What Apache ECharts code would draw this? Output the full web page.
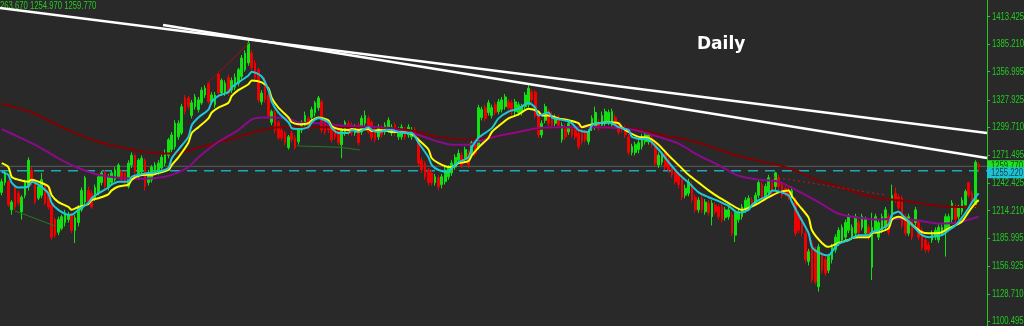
<!DOCTYPE html>
<html><head><meta charset="utf-8">
<script src="https://cdn.jsdelivr.net/npm/echarts@6/dist/echarts.min.js"></script>
<style>html,body{margin:0;padding:0;background:#292929;overflow:hidden}#c{width:1024px;height:326px}</style>
</head><body><div id="c"></div>
<script>
// [open, close, low, high]
const candles = [
[1233,1244,1230,1247],[1243,1253,1240,1256],[1244,1220,1218,1246],[1215,1223,1210,1225],[1239,1218,1215,1241],
[1232,1222,1219,1235],[1213,1228,1205,1230],[1230,1243,1227,1246],[1239,1266,1235,1269],[1256,1243,1240,1259],
[1243,1223,1221,1246],[1227,1239,1225,1241],[1230,1246,1227,1253],[1239,1222,1220,1241],[1235,1218,1215,1238],
[1220,1187,1184,1222],[1205,1189,1186,1207],[1192,1205,1189,1208],[1196,1208,1194,1210],[1202,1212,1198,1215],
[1205,1210,1202,1213],[1210,1194,1191,1212],[1194,1207,1181,1210],[1202,1218,1198,1220],[1215,1235,1213,1238],
[1223,1248,1221,1250],[1235,1222,1220,1239],[1232,1218,1216,1235],[1227,1238,1224,1241],[1232,1249,1230,1251],
[1243,1253,1240,1255],[1253,1239,1236,1256],[1238,1249,1235,1252],[1243,1253,1241,1255],[1246,1256,1244,1259],
[1249,1261,1247,1263],[1254,1246,1244,1256],[1253,1243,1241,1255],[1239,1263,1237,1266],
[1261,1271,1258,1274],[1271,1254,1251,1273],[1249,1266,1246,1268],[1254,1268,1251,1271],[1266,1239,1235,1268],
[1243,1253,1240,1256],[1246,1259,1243,1261],[1254,1261,1251,1264],[1254,1263,1251,1266],[1258,1269,1256,1272],
[1263,1273,1260,1277],[1271,1287,1268,1289],[1277,1292,1274,1295],[1280,1304,1277,1307],[1290,1304,1287,1307],
[1294,1321,1292,1324],[1330,1316,1313,1333],[1330,1321,1318,1332],[1312,1325,1309,1328],[1321,1331,1318,1334],
[1318,1328,1315,1331],[1325,1338,1323,1341],[1333,1340,1330,1343],[1345,1326,1324,1347],[1326,1333,1323,1336],
[1323,1333,1320,1336],[1354,1335,1333,1357],[1335,1348,1332,1350],[1335,1345,1332,1348],[1351,1335,1332,1354],
[1338,1348,1335,1351],[1341,1351,1338,1355],[1345,1359,1342,1361],[1352,1371,1348,1374],[1359,1376,1357,1379],
[1366,1386,1363,1389],[1376,1361,1358,1379],[1366,1351,1348,1369],[1359,1328,1325,1361],
[1326,1335,1323,1338],[1348,1328,1325,1351],[1333,1312,1309,1335],[1305,1316,1302,1318],[1315,1297,1294,1318],
[1305,1289,1287,1307],[1297,1289,1286,1299],[1294,1284,1281,1296],[1279,1290,1277,1292],[1294,1287,1284,1297],
[1289,1279,1277,1292],[1285,1297,1282,1299],[1297,1304,1294,1307],[1302,1312,1299,1316],[1309,1300,1297,1311],
[1310,1318,1307,1321],[1315,1325,1311,1327],[1320,1330,1317,1332],[1326,1297,1294,1328],[1307,1295,1292,1309],
[1305,1297,1294,1307],[1300,1287,1284,1302],[1300,1290,1287,1302],[1297,1284,1281,1299],[1282,1297,1268,1300],
[1294,1305,1291,1307],[1304,1294,1291,1307],[1302,1294,1291,1305],[1294,1300,1291,1303],[1302,1284,1281,1305],
[1295,1309,1292,1312],[1304,1312,1301,1317],[1309,1295,1293,1312],[1305,1289,1286,1307],[1297,1287,1284,1299],
[1290,1300,1287,1303],[1299,1292,1289,1302],[1295,1302,1292,1305],[1297,1307,1294,1310],[1294,1300,1291,1303],
[1302,1294,1291,1305],[1290,1297,1287,1300],[1290,1300,1287,1303],[1297,1290,1287,1300],[1292,1300,1289,1303],
[1290,1297,1287,1300],[1297,1292,1289,1300],[1287,1263,1260,1290],[1266,1256,1253,1269],[1263,1249,1246,1265],
[1256,1243,1240,1258],[1253,1243,1240,1256],[1243,1249,1240,1252],[1248,1239,1235,1251],[1241,1249,1237,1252],
[1244,1256,1241,1259],[1249,1258,1246,1261],[1253,1263,1250,1266],[1259,1269,1256,1272],[1266,1273,1263,1277],
[1271,1261,1258,1274],[1268,1277,1265,1280],[1273,1261,1258,1277],[1274,1284,1271,1287],[1282,1273,1270,1285],
[1279,1320,1277,1323],
[1310,1318,1307,1321],[1320,1309,1306,1323],[1315,1325,1312,1328],[1312,1320,1309,1323],[1323,1315,1312,1326],
[1316,1326,1313,1329],[1318,1328,1315,1331],[1321,1331,1318,1334],[1326,1320,1317,1329],[1325,1316,1312,1328],
[1316,1326,1312,1329],[1315,1323,1312,1326],[1316,1321,1312,1324],[1321,1333,1318,1336],[1323,1340,1320,1343],
[1336,1328,1325,1339],[1336,1312,1309,1338],[1315,1292,1289,1318],[1292,1304,1289,1307],[1307,1321,1304,1324],
[1316,1304,1301,1319],[1312,1302,1299,1316],[1304,1310,1301,1313],[1310,1302,1299,1313],[1287,1302,1284,1305],
[1300,1290,1287,1303],[1295,1304,1292,1307],[1299,1292,1289,1302],[1297,1290,1287,1300],[1294,1280,1277,1297],
[1295,1285,1282,1298],[1294,1287,1284,1297],[1285,1295,1282,1298],[1299,1309,1296,1312],[1300,1315,1297,1321],
[1305,1299,1296,1308],[1302,1312,1299,1316],[1304,1316,1301,1319],[1305,1315,1302,1318],[1302,1316,1299,1319],
[1310,1302,1299,1313],[1302,1295,1292,1305],[1300,1297,1294,1303],[1299,1292,1289,1302],[1290,1274,1271,1293],
[1274,1280,1271,1283],[1274,1282,1271,1285],[1277,1284,1273,1287],[1280,1290,1277,1293],[1285,1292,1282,1295],
[1285,1292,1282,1295],[1289,1282,1279,1292],[1284,1263,1260,1287],[1261,1271,1258,1274],[1264,1271,1261,1274],
[1273,1259,1256,1277],[1266,1256,1253,1269],[1259,1251,1248,1262],[1254,1244,1241,1257],[1251,1241,1237,1254],
[1248,1228,1225,1251],[1230,1237,1227,1241],[1232,1244,1229,1247],[1241,1225,1222,1244],[1228,1215,1212,1231],
[1215,1225,1212,1228],[1227,1215,1212,1230],[1213,1223,1210,1226],[1222,1212,1209,1225],[1208,1222,1199,1225],
[1220,1213,1210,1223],[1218,1208,1205,1221],[1218,1205,1202,1221],[1207,1215,1204,1218],[1208,1215,1205,1218],
[1210,1191,1188,1213],[1189,1212,1182,1215],[1205,1213,1202,1216],[1208,1218,1205,1221],[1215,1225,1212,1228],
[1218,1227,1215,1230],[1225,1220,1217,1228],[1222,1230,1219,1233],[1230,1243,1227,1246],[1241,1228,1225,1244],
[1228,1239,1225,1242],[1233,1248,1230,1251],[1243,1232,1229,1246],[1239,1253,1235,1254],[1248,1239,1235,1251],
[1241,1230,1227,1244],[1237,1232,1229,1241],[1235,1228,1225,1239],[1230,1235,1227,1239],[1225,1191,1188,1228],
[1210,1194,1191,1213],[1205,1191,1188,1208],[1191,1164,1160,1194],[1162,1172,1158,1175],[1181,1143,1140,1184],
[1174,1141,1138,1177],[1136,1177,1131,1180],[1169,1153,1150,1172],[1164,1150,1147,1167],[1153,1167,1150,1170],
[1164,1177,1160,1180],[1174,1187,1171,1190],[1181,1194,1178,1197],[1184,1197,1181,1200],[1187,1202,1184,1205],
[1194,1208,1191,1211],[1187,1197,1184,1200],[1191,1208,1188,1211],[1202,1192,1189,1205],[1197,1208,1194,1211],
[1191,1205,1188,1208],[1197,1187,1184,1200],[1156,1197,1143,1212],[1194,1208,1191,1211],[1187,1202,1184,1205],
[1194,1208,1191,1211],[1197,1215,1194,1218],[1208,1192,1189,1211],[1208,1230,1205,1241],[1232,1225,1222,1238],
[1228,1217,1214,1231],[1227,1199,1196,1230],[1208,1191,1188,1211],[1191,1208,1188,1211],[1203,1187,1184,1206],
[1202,1215,1199,1218],[1202,1187,1184,1205],[1194,1176,1173,1197],[1184,1174,1171,1187],[1179,1174,1171,1182],
[1184,1191,1181,1194],[1187,1194,1184,1197],[1184,1197,1181,1200],[1191,1197,1188,1200],[1194,1208,1167,1211],
[1197,1208,1194,1211],[1205,1222,1202,1225],[1218,1205,1202,1221],[1208,1217,1205,1220],[1213,1225,1210,1228],
[1220,1234,1217,1236],[1243,1230,1227,1244],[1232,1223,1220,1235],[1220,1264,1217,1266],[1261.5,1259.77,1254.97,1263.67]
];
const slotCount = 296;
const categories = Array.from({length: slotCount}, (_, i) => String(i));

// moving averages: [bar index, price]
const cyanMA = [[0,1254],[2,1251],[3,1243],[5,1238],[8,1239],[9,1244],[11,1241],[14,1232],[15,1222],[17,1215],[20,1210],[21,1210],[23,1215],[26,1222],[27,1227],[29,1232],[32,1238],[33,1241],[35,1244],[38,1244],[39,1249],[41,1251],[44,1253],[45,1253],[47,1254],[50,1258],[51,1268],[53,1277],[56,1290],[57,1302],[59,1310],[62,1318],[63,1326],[65,1332],[68,1336],[69,1341],[71,1346],[74,1353],[75,1357],[78,1352],[80,1338],[81,1326],[83,1315],[86,1305],[87,1299],[89,1298],[92,1300],[93,1305],[95,1309],[98,1305],[99,1299],[101,1294],[104,1294],[105,1297],[107,1295],[110,1300],[111,1297],[113,1295],[116,1297],[117,1297],[119,1295],[122,1294],[123,1294],[125,1284],[128,1269],[129,1261],[131,1256],[134,1254],[135,1258],[137,1264],[140,1269],[141,1279],[143,1289],[147,1299],[149,1309],[152,1316],[155,1319],[158,1325],[160,1320],[161,1312],[164,1315],[165,1310],[167,1308],[170,1306],[171,1304],[173,1297],[176,1295],[177,1302],[179,1304],[182,1305],[183,1304],[185,1300],[188,1297],[189,1290],[191,1288],[194,1287],[197,1277],[200,1264],[203,1252],[206,1243],[209,1233],[212,1228],[215,1224],[218,1219],[221,1212],[224,1215],[225,1220],[227,1225],[230,1230],[231,1235],[233,1234],[236,1230],[237,1223],[239,1210],[242,1191],[243,1177],[245,1171],[248,1168],[249,1172],[251,1180],[254,1184],[255,1186],[257,1189],[260,1189],[261,1192],[263,1194],[266,1200],[267,1210],[269,1213],[270,1210],[272,1203],[274,1196],[276,1189],[278,1187],[280,1188],[282,1189],[284,1194],[286,1199],[288,1207],[290,1217],[292,1228],[293,1232]];
const yellowMA = [[0,1263],[2,1259],[3,1249],[5,1246],[8,1244],[9,1246],[11,1244],[14,1239],[15,1230],[17,1223],[20,1218],[21,1215],[23,1218],[26,1221],[27,1225],[29,1227],[32,1231],[33,1235],[35,1239],[38,1241],[39,1246],[41,1250],[44,1251],[45,1251],[47,1253],[50,1256],[51,1261],[53,1269],[56,1284],[57,1294],[59,1300],[62,1309],[63,1315],[65,1320],[68,1325],[69,1332],[71,1338],[74,1344],[75,1348],[78,1346],[80,1340],[81,1330],[83,1320],[86,1310],[87,1305],[89,1303],[92,1304],[93,1307],[95,1310],[98,1307],[99,1301],[101,1298],[104,1297],[105,1298],[107,1297],[110,1298],[111,1296],[113,1297],[116,1296],[117,1295],[119,1295],[122,1294],[123,1293],[125,1287],[128,1277],[129,1268],[131,1263],[134,1259],[135,1259],[137,1263],[140,1265],[141,1271],[143,1279],[146,1289],[147,1295],[149,1301],[152,1309],[155,1313],[158,1319],[161,1316],[162,1312],[164,1312],[167,1309],[170,1307],[173,1304],[174,1300],[176,1302],[179,1304],[182,1305],[185,1304],[186,1300],[188,1295],[191,1290],[194,1289],[197,1282],[200,1271],[203,1261],[206,1251],[209,1243],[212,1235],[215,1228],[218,1222],[221,1216],[222,1215],[224,1217],[227,1222],[230,1228],[233,1233],[236,1235],[237,1229],[239,1220],[242,1207],[243,1194],[246,1181],[248,1177],[251,1181],[254,1184],[255,1186],[257,1187],[260,1187],[261,1191],[263,1192],[266,1196],[267,1205],[269,1208],[270,1207],[272,1203],[274,1197],[276,1192],[278,1191],[280,1191],[282,1192],[284,1196],[286,1199],[288,1203],[290,1213],[292,1222],[293,1225]];
const purpleMA = [[0,1298],[5,1290],[11,1280],[17,1268],[23,1258],[29,1251],[35,1248],[41,1247],[47,1248],[51,1251],[56,1259],[59,1269],[65,1285],[71,1297],[75,1308],[78,1310],[81,1310],[86,1309],[89,1305],[95,1304],[101,1302],[107,1301],[113,1300],[119,1297],[125,1292],[131,1285],[135,1282],[140,1282],[143,1285],[149,1291],[155,1295],[161,1299],[167,1300],[173,1300],[179,1300],[185,1299],[191,1296],[197,1290],[203,1283],[209,1271],[215,1261],[221,1250],[227,1246],[233,1244],[239,1234],[245,1223],[251,1211],[257,1207],[263,1205],[269,1206],[275,1204],[281,1201],[287,1202],[290,1205],[293,1208]];
const darkRedMA = [[0,1324],[9,1315],[20,1297],[29,1285],[39,1277],[47,1273],[53,1273],[59,1279],[68,1287],[78,1297],[83,1300],[92,1300],[101,1300],[111,1300],[122,1297],[131,1290],[141,1287],[149,1291],[158,1297],[168,1300],[179,1300],[188,1299],[198,1292],[209,1284],[221,1270],[233,1261],[239,1254],[245,1245],[251,1239],[257,1232],[263,1227],[269,1225],[275,1222],[281,1219],[287,1218],[293,1219]];

// drawn trend lines: [bar index, price]
const trendUpper = [[-0.5,1422.4],[295.5,1294.0]];
const trendLower = [[48.4,1404.9],[295.5,1268.3]];
const greenTrendA = [[4,1213.9],[16,1198.5]];
const greenTrendB = [[88.5,1280.7],[101.5,1279.3],[107.5,1276.5]];
const redTrend = [[61.9,1345.4],[74.5,1387.5]];
const redDotted = [[231.4,1248.8],[265,1230.3]];

const bidPrice = 1259.77;
const askPrice = 1255.22;
const priceTicks = [1413.425,1385.210,1356.995,1327.925,1299.710,1271.495,1242.425,1214.210,1185.995,1156.925,1128.710,1100.495];
const headerText = '1263.670 1254.970 1259.770';
const periodLabel = 'Daily';

const FONT = "'Liberation Sans',Arial,sans-serif";
const GREEN_TXT = '#22cc22';
const SQUEEZE = 0.7;

function maLine(data, color, width, z) {
  return {type:'line', xAxisIndex:1, data, symbol:'none', smooth:0.25, z,
    lineStyle:{color, width}, silent:true};
}
function plainLine(data, color, width, type, z) {
  return {type:'line', xAxisIndex:1, data, symbol:'none', z,
    lineStyle:{color, width, type}, silent:true};
}

const chart = echarts.init(document.getElementById('c'), null, {renderer:'canvas'});
chart.setOption({
  backgroundColor:'#292929',
  animation:false,
  grid:{left:0, right:37, top:0, bottom:0, containLabel:false, outerBoundsMode:'none'},
  xAxis:[
    {type:'category', data:categories, boundaryGap:true, show:false},
    {type:'value', min:-0.5, max:slotCount-0.5, show:false}
  ],
  yAxis:{type:'value', position:'right', min:1095.7, max:1430.6,
    axisLine:{show:true, onZero:false, lineStyle:{color:GREEN_TXT, width:1}},
    axisTick:{show:true, length:3, customValues:priceTicks, lineStyle:{color:GREEN_TXT}},
    axisLabel:{show:false},
    splitLine:{show:false}
  },
  graphic:[
    {type:'text', x:-4.3, y:0, scaleX:SQUEEZE, silent:true,
      style:{text:headerText, fill:GREEN_TXT, font:"11px "+FONT}},
    {type:'text', left:697, top:36, silent:true,
      style:{text:periodLabel, fill:'#ffffff', font:"bold 17px 'DejaVu Sans',sans-serif"}}
  ],
  series:[
    {type:'line', xAxisIndex:1, data:[[-0.5,bidPrice],[slotCount-0.5,bidPrice]], symbol:'none', z:1,
      lineStyle:{color:'#5e5e5e', width:1}, silent:true},
    {type:'line', xAxisIndex:1, data:[[-0.5,askPrice],[slotCount-0.5,askPrice]], symbol:'none', z:2,
      lineStyle:{color:'#1eaabb', width:1.5, type:[10,7]}, silent:true},
    {type:'candlestick', data:candles, barWidth:2.2, z:3,
      itemStyle:{color:'#11e011', color0:'#f00000', borderColor:'#11e011', borderColor0:'#f00000', borderWidth:1}},
    maLine(darkRedMA, '#820000', 2, 4),
    maLine(purpleMA, '#8c0a8c', 2, 4),
    maLine(yellowMA, '#ffff00', 2, 5),
    maLine(cyanMA, '#1ec8d8', 2, 5),
    plainLine(greenTrendA, '#1f7a1f', 1, 'solid', 6),
    plainLine(greenTrendB, '#1f7a1f', 1, 'solid', 6),
    plainLine(redTrend, '#a01010', 1, 'solid', 6),
    plainLine(redDotted, '#d01010', 1, [2,3], 6),
    plainLine(trendUpper, '#ffffff', 2.5, 'solid', 7),
    plainLine(trendLower, '#ffffff', 2.5, 'solid', 7),
    // price scale labels
    {type:'custom', xAxisIndex:1, clip:false, z:10, silent:true,
      data:priceTicks.map(v=>[slotCount-0.5, v]),
      renderItem:(params, api)=>{
        const p = api.coord([api.value(0), api.value(1)]);
        return {type:'text', x:p[0]+5, y:p[1], scaleX:SQUEEZE,
          style:{text:api.value(1).toFixed(3), fill:GREEN_TXT, font:"11px "+FONT, verticalAlign:'middle', align:'left'}};
      }},
    // current price boxes
    {type:'custom', xAxisIndex:1, clip:false, z:11, silent:true,
      data:[[slotCount-0.5, bidPrice, 0],[slotCount-0.5, askPrice, 1]],
      renderItem:(params, api)=>{
        const p = api.coord([api.value(0), api.value(1)]);
        const isAsk = api.value(2) === 1;
        const cy = p[1] + (isAsk ? 2 : -0.5);
        return {type:'group', children:[
          {type:'rect', shape:{x:p[0], y:cy-5.5, width:40, height:11},
            style:{fill: isAsk ? '#1ec3d3' : '#22e022'}},
          {type:'text', x:p[0]+4, y:cy+0.5, scaleX:SQUEEZE,
            style:{text:api.value(1).toFixed(3), fill: isAsk ? '#0c3f4d' : '#0b4a0b', font:"11px "+FONT, verticalAlign:'middle', align:'left'}}
        ]};
      }}
  ]
});
</script></body></html>
